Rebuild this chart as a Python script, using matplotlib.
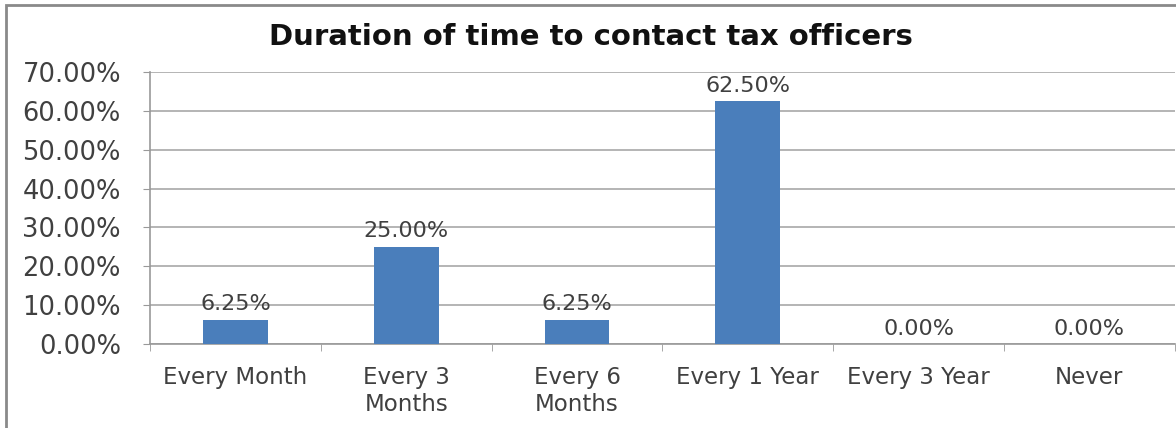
import matplotlib.pyplot as plt
from matplotlib.patches import Rectangle
from matplotlib.ticker import FuncFormatter, MultipleLocator
import numpy as np

# Datos del grafico
categorias = ["Every Month", "Every 3\nMonths", "Every 6\nMonths",
              "Every 1 Year", "Every 3 Year", "Never"]
porcentajes = [6.25, 25.00, 6.25, 62.50, 0.00, 0.00]

plt.rcParams['font.family'] = ['DejaVu Sans']

fig = plt.figure(figsize=(11.76, 4.28), dpi=100)
ax = fig.add_axes([0.1276, 0.196, 0.8714, 0.636])

x = np.arange(len(categorias))
ax.bar(x, porcentajes, width=0.38, color="#4a7ebb", zorder=3)

# Etiquetas de valor sobre cada barra
for xi, v in zip(x, porcentajes):
    ax.annotate(f"{v:.2f}%", (xi, v),
                xytext=(0, 4), textcoords="offset points",
                ha="center", va="bottom", fontsize=16, color="#404040")

ax.set_xlim(-0.5, len(categorias) - 0.5)
ax.set_ylim(0, 70)
ax.yaxis.set_major_locator(MultipleLocator(10))
ax.yaxis.set_major_formatter(FuncFormatter(lambda v, p: f"{v:.2f}%"))
ax.grid(axis="y", color="#b4b4b4", linewidth=1.4, zorder=0)

ax.set_xticks(x)
ax.set_xticklabels(categorias)
ax.set_xticks(np.arange(len(categorias) + 1) - 0.5, minor=True)
ax.tick_params(axis="x", which="major", length=0, pad=16,
               labelsize=16.5, labelcolor="#404040")
ax.tick_params(axis="x", which="minor", length=5, direction="out", color="#999999")
ax.tick_params(axis="y", length=5, direction="out", color="#999999", pad=16,
               labelsize=18.5, labelcolor="#404040")

for lado in ["top", "right"]:
    ax.spines[lado].set_visible(False)
ax.spines["left"].set_color("#999999")
ax.spines["bottom"].set_color("#999999")
ax.spines["left"].set_linewidth(1.2)
ax.spines["bottom"].set_linewidth(1.2)

fig.text(0.5025, 0.913, "Duration of time to contact tax officers",
         ha="center", va="center", fontsize=21, fontweight="bold", color="#111111")

# Marco gris del grafico
fig.patches.append(Rectangle((6 / 1176, -0.1), 1.2, (423 / 428) + 0.1,
                             transform=fig.transFigure, fill=False,
                             edgecolor="#8a8a8a", linewidth=2))

plt.savefig("out.png", dpi=100)
